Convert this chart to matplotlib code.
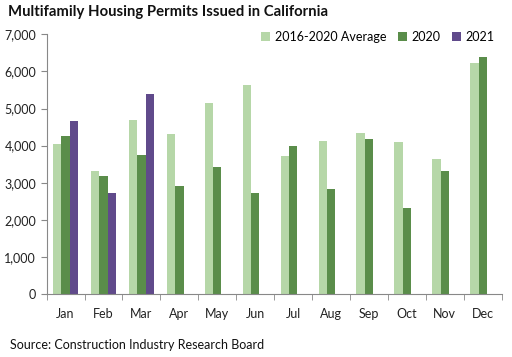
import matplotlib.pyplot as plt
import numpy as np
from matplotlib.ticker import FuncFormatter, FixedLocator

# ---donnees---
mois = ["Jan", "Feb", "Mar", "Apr", "May", "Jun", "Jul", "Aug", "Sep", "Oct", "Nov", "Dec"]
moyenne_2016_2020 = [4050, 3320, 4690, 4320, 5150, 5635, 3730, 4130, 4340, 4100, 3640, 6230]
permis_2020 = [4260, 3185, 3750, 2900, 3435, 2730, 3995, 2835, 4180, 2325, 3320, 6390]
permis_2021 = [4665, 2730, 5395]

plt.rcParams['font.family'] = ['Lato', 'DejaVu Sans']

fig = plt.figure(figsize=(5.12, 3.57), dpi=100)
ax = fig.add_axes([0.091, 0.176, 0.889, 0.728])

x = np.arange(len(mois))
w = 0.22
ax.bar(x - w, moyenne_2016_2020, w, color='#b6d7a8', label='2016-2020 Average')
ax.bar(x, permis_2020, w, color='#5a8d4a', label='2020')
ax.bar(x[:len(permis_2021)] + w, permis_2021, w, color='#604a8b', label='2021')

ax.set_xlim(-0.5, 11.5)
ax.set_ylim(0, 7000)
ax.set_yticks(range(0, 7001, 1000))
ax.yaxis.set_major_formatter(FuncFormatter(lambda v, p: f"{int(v):,}"))
ax.set_xticks(x)
ax.set_xticklabels(mois)
ax.xaxis.set_minor_locator(FixedLocator(np.arange(-0.5, 12, 1)))
ax.tick_params(axis='x', which='major', length=0, pad=10, labelsize=9, colors='#222222')
ax.tick_params(axis='x', which='minor', length=4, color='#888888')
ax.tick_params(axis='y', length=4, color='#888888', labelsize=9, labelcolor='#222222')

for s in ['top', 'right']:
    ax.spines[s].set_visible(False)
for s in ['left', 'bottom']:
    ax.spines[s].set_color('#888888')

fig.text(0.016, 0.966, "Multifamily Housing Permits Issued in California", fontsize=10.7,
         fontweight='bold', va='center', ha='left', color='#111111')
fig.legend(loc='center right', bbox_to_anchor=(0.966, 0.896), ncol=3, frameon=False,
           fontsize=9, handlelength=0.7, handleheight=0.7, handletextpad=0.4,
           columnspacing=0.9, borderaxespad=0, borderpad=0)
fig.text(0.02, 0.035, "Source: Construction Industry Research Board", fontsize=9,
         va='center', ha='left', color='#111111')

fig.savefig("out.png", dpi=100)
